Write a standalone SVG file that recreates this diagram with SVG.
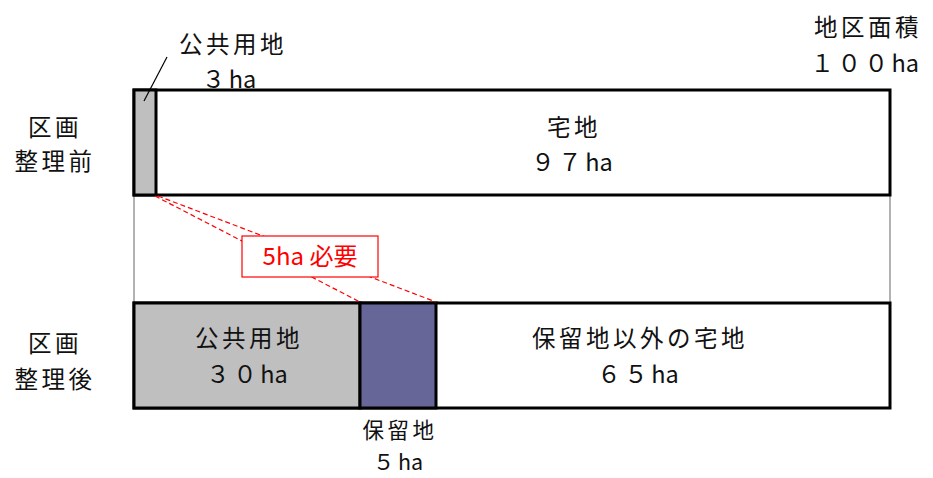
<svg xmlns="http://www.w3.org/2000/svg" width="933" height="478" viewBox="0 0 933 478">
<style>
text{font-family:"Noto Sans CJK JP","Noto Sans",sans-serif;font-size:23.5px;fill:#111;letter-spacing:3.5px}
.c{text-anchor:middle}
.r{text-anchor:end}
.h{letter-spacing:0}
.s{font-size:21.5px}
.bar{stroke:#000;stroke-width:3}
.red{fill:#ff0000;font-size:24px;letter-spacing:0}
</style>
<rect width="933" height="478" fill="#fff"/>
<g id="frame"><rect x="134" y="90" width="756" height="318" fill="none" stroke="#999" stroke-width="1.5"/></g>
<g id="before">
<rect class="bar" x="134" y="90" width="756" height="105" fill="#fff"/>
<rect class="bar" x="134" y="90" width="22" height="105" fill="#bfbfbf"/>
<text class="c" x="574" y="136">宅地</text>
<text class="c" x="572" y="171">９７<tspan class="h">ha</tspan></text>
</g>
<g id="after">
<rect class="bar" x="134" y="303" width="756" height="105" fill="#fff"/>
<rect class="bar" x="134" y="303" width="226" height="105" fill="#bfbfbf"/>
<rect class="bar" x="360" y="303" width="76" height="105" fill="#666699"/>
<text class="c" x="249" y="347">公共用地</text>
<text class="c" x="247" y="383">３０<tspan class="h">ha</tspan></text>
<text class="c" x="640" y="347">保留地以外の宅地</text>
<text class="c" x="638" y="383">６５<tspan class="h">ha</tspan></text>
</g>
<g id="connectors">
<line x1="167" y1="57" x2="144" y2="101" stroke="#000" stroke-width="1.2"/>
<line x1="155" y1="196" x2="360" y2="302" stroke="#ff0000" stroke-width="1.2" stroke-dasharray="5,3"/>
<line x1="158" y1="196" x2="436" y2="302" stroke="#ff0000" stroke-width="1.2" stroke-dasharray="5,3"/>
</g>
<g id="label-need">
<rect x="242" y="236" width="136" height="41" fill="#fff" stroke="#ff0000" stroke-width="1.2"/>
<text class="c red" x="310" y="265">5ha 必要</text>
</g>
<g id="labels">
<text class="c" x="233" y="53">公共用地</text>
<text class="c" x="229" y="88">３<tspan class="h">ha</tspan></text>
<text class="r" x="922" y="36">地区面積</text>
<text class="r" x="919" y="72">１００<tspan class="h">ha</tspan></text>
<text class="c" x="55" y="136">区画</text>
<text class="c" x="55" y="170">整理前</text>
<text class="c" x="55" y="352">区画</text>
<text class="c" x="55" y="388">整理後</text>
<text class="c s" x="400" y="438">保留地</text>
<text class="c s" x="398" y="470">５<tspan class="h">ha</tspan></text>
</g>
</svg>
